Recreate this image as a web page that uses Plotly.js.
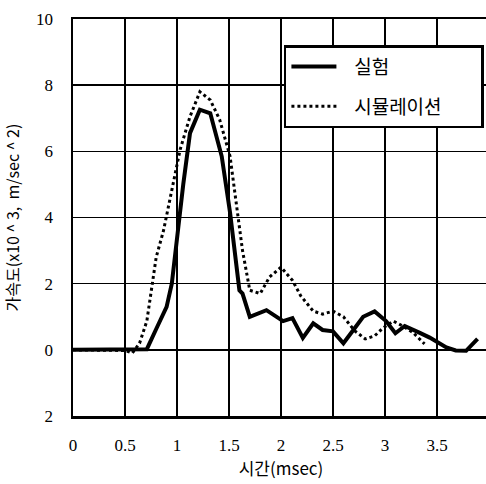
<!DOCTYPE html>
<html><head><meta charset="utf-8">
<script src="https://cdn.plot.ly/plotly-3.0.1.min.js"></script>
<style>html,body{margin:0;padding:0;overflow:hidden;background:#fff}#chart{width:492px;height:484px}</style>
</head><body><div id="chart"></div>
<script>
// 실험 (experiment)
const expX = [0, 0.3, 0.6, 0.71, 0.80, 0.90, 0.95, 1.0, 1.06, 1.125, 1.22, 1.32, 1.43, 1.51, 1.6, 1.63, 1.70, 1.86, 2.02, 2.11, 2.21, 2.31, 2.40, 2.5, 2.6, 2.71, 2.79, 2.90, 3.01, 3.10, 3.19, 3.33, 3.43, 3.59, 3.68, 3.78, 3.89];
const expY = [0, 0, 0, 0.02, 0.63, 1.3, 2.0, 3.4, 5.0, 6.55, 7.26, 7.15, 5.85, 4.15, 1.8, 1.7, 1.0, 1.2, 0.87, 0.96, 0.36, 0.8, 0.6, 0.56, 0.2, 0.66, 1.0, 1.16, 0.87, 0.5, 0.72, 0.52, 0.37, 0.07, -0.02, -0.03, 0.33];
// 시뮬레이션 (simulation)
const simX = [0, 0.3, 0.5, 0.57, 0.64, 0.71, 0.76, 0.80, 0.87, 0.93, 1.03, 1.125, 1.22, 1.32, 1.41, 1.51, 1.59, 1.63, 1.70, 1.80, 1.89, 2.0, 2.11, 2.19, 2.31, 2.40, 2.50, 2.6, 2.71, 2.81, 2.90, 2.98, 3.08, 3.17, 3.27, 3.38];
const simY = [0, 0, -0.02, -0.1, 0.2, 0.87, 1.87, 2.8, 3.6, 4.5, 6.05, 7.05, 7.8, 7.55, 6.96, 5.85, 4.04, 3.0, 1.8, 1.7, 2.2, 2.5, 2.1, 1.63, 1.17, 1.08, 1.17, 1.0, 0.57, 0.33, 0.42, 0.66, 0.87, 0.72, 0.52, 0.18];
const xTicks = [0, 0.5, 1, 1.5, 2, 2.5, 3, 3.5, 4];
const xTickText = ['0', '0.5', '1', '1.5', '2', '2.5', '3', '3.5', '4'];
const yTicks = [-2, 0, 2, 4, 6, 8, 10];
const yTickText = ['2', '0', '2', '4', '6', '8', '10'];
const names = ['실험', '시뮬레이션'];
const lead = '\u00a0'.repeat(3);
const pad = '\u00a0'.repeat(8);

const traces = [
  {x: expX, y: expY, name: lead + names[0] + pad, mode: 'lines', legendgroup: 'a',
   line: {color: '#000', width: 4}},
  {x: simX, y: simY, name: lead + names[1] + pad, mode: 'lines', legendgroup: 'b',
   line: {color: '#000', width: 3, dash: 'dot'}}
];
const serif = "'Liberation Serif', 'Times New Roman', serif";
const sans = 'Noto Sans CJK KR';
const layout = {
  width: 492, height: 484,
  margin: {l: 73, r: 3, t: 19, b: 68, autoexpand: false},
  paper_bgcolor: '#fff', plot_bgcolor: '#fff',
  font: {family: serif, size: 17, color: '#000'},
  showlegend: true,
  xaxis: {range: [0, 4], tickvals: xTicks, ticktext: xTickText,
    showgrid: true, gridcolor: '#000', gridwidth: 1.5, zeroline: false,
    showline: true, linecolor: '#000', linewidth: 2.5, mirror: true,
    ticks: '', ticklabelstandoff: 12,
    tickfont: {family: serif, size: 17, color: '#000'},
    title: {text: '시간(msec)', font: {family: sans, size: 17, color: '#000'}, standoff: 8}},
  yaxis: {range: [-2, 10], tickvals: yTicks, ticktext: yTickText,
    showgrid: true, gridcolor: '#000', gridwidth: 1.5, zeroline: false,
    showline: true, linecolor: '#000', linewidth: 2.5, mirror: true,
    ticks: '', ticklabelstandoff: 14,
    tickfont: {family: serif, size: 17, color: '#000'},
    title: {text: '가속도(x10 ^ 3,  m/sec ^ 2)', font: {family: sans, size: 16, color: '#000'}, standoff: 14}},
  legend: {x: 0.507, y: 0.934, xanchor: 'left', yanchor: 'top',
    bgcolor: '#fff', bordercolor: '#000', borderwidth: 2.5,
    font: {family: sans, size: 19, color: '#000'},
    itemwidth: 45, traceorder: 'grouped', tracegroupgap: 12}
};
Plotly.newPlot('chart', traces, layout, {displayModeBar: false, staticPlot: true});
</script></body></html>
